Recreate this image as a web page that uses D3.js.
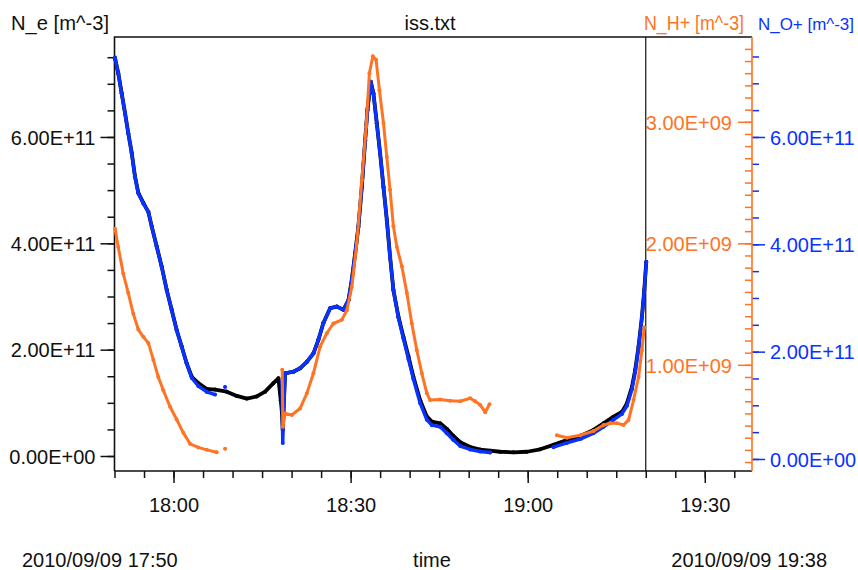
<!DOCTYPE html>
<html>
<head>
<meta charset="utf-8">
<script src="https://cdn.jsdelivr.net/npm/d3@7"></script>
<style>
  body { margin: 0; background: #fff; }
  svg { display: block; }
  text { font-family: 'Liberation Sans', Arial, sans-serif; font-size: 20px; }
</style>
</head>
<body>
<svg id="chart" width="858" height="570"></svg>
<script>
(function () {
  // ==================
  // Data, time of day 2010/09/09
  // ==================
  const electronData = [
    ['17:50:05', 7.48e11], ['17:50:38', 7.20e11], ['17:51:13', 6.82e11], ['17:51:47', 6.45e11],
    ['17:52:20', 6.07e11], ['17:52:55', 5.70e11], ['17:53:28', 5.26e11], ['17:54:02', 4.95e11],
    ['17:54:53', 4.76e11], ['17:55:44', 4.59e11], ['17:56:19', 4.31e11], ['17:57:09', 3.94e11],
    ['17:58:00', 3.56e11], ['17:58:51', 3.12e11], ['17:59:41', 2.75e11], ['18:00:32', 2.37e11],
    ['18:01:23', 2.06e11], ['18:02:14', 1.74e11], ['18:03:05', 1.49e11], ['18:04:12', 1.37e11],
    ['18:05:38', 1.26e11], ['18:07:02', 1.25e11], ['18:09:01', 1.21e11], ['18:10:43', 1.13e11],
    ['18:12:25', 1.08e11], ['18:14:06', 1.12e11], ['18:15:31', 1.21e11], ['18:16:55', 1.37e11],
    ['18:17:46', 1.46e11], ['18:18:10', 1.05e11], ['18:18:20', 0.87e11], ['18:18:30', 0.49e11],
    ['18:18:54', 1.555e11], ['18:20:18', 1.585e11], ['18:21:26', 1.65e11], ['18:22:35', 1.77e11],
    ['18:23:42', 1.93e11], ['18:24:32', 2.18e11], ['18:25:23', 2.50e11], ['18:26:32', 2.78e11],
    ['18:27:40', 2.81e11], ['18:28:47', 2.75e11], ['18:29:38', 2.93e11], ['18:30:12', 3.31e11],
    ['18:30:46', 3.81e11], ['18:31:19', 4.31e11], ['18:31:54', 5.06e11], ['18:32:28', 5.94e11],
    ['18:32:51', 6.51e11], ['18:33:25', 7.04e11], ['18:33:52', 6.82e11], ['18:34:26', 6.26e11],
    ['18:35:00', 5.69e11], ['18:35:34', 5.06e11], ['18:36:08', 4.44e11], ['18:36:41', 3.75e11],
    ['18:37:15', 3.12e11], ['18:38:06', 2.62e11], ['18:38:57', 2.24e11], ['18:39:48', 1.87e11],
    ['18:40:38', 1.49e11], ['18:41:47', 1.05e11], ['18:42:55', 0.74e11], ['18:43:46', 0.645e11],
    ['18:45:10', 0.615e11], ['18:46:18', 0.51e11], ['18:47:25', 0.376e11], ['18:48:34', 0.26e11],
    ['18:50:15', 0.17e11], ['18:51:57', 0.12e11], ['18:53:38', 0.10e11], ['18:55:20', 0.08e11],
    ['18:57:35', 0.07e11], ['18:59:52', 0.08e11], ['19:02:07', 0.126e11], ['19:04:22', 0.21e11],
    ['19:06:38', 0.30e11], ['19:08:54', 0.376e11], ['19:11:09', 0.49e11], ['19:12:51', 0.615e11],
    ['19:14:32', 0.74e11], ['19:15:58', 0.83e11], ['19:16:49', 0.99e11], ['19:17:40', 1.30e11],
    ['19:18:13', 1.62e11], ['19:18:47', 2.06e11], ['19:19:21', 2.62e11], ['19:19:45', 3.12e11],
    ['19:20:05', 3.65e11]
  ];

  // null = gap in the record
  const oxygenData = [
    ['17:50:05', 7.48e11], ['17:50:38', 7.19e11], ['17:51:13', 6.81e11], ['17:51:47', 6.44e11],
    ['17:52:20', 6.07e11], ['17:52:55', 5.70e11], ['17:53:28', 5.26e11], ['17:54:02', 4.95e11],
    ['17:54:53', 4.76e11], ['17:55:44', 4.61e11], ['17:56:19', 4.33e11], ['17:57:09', 3.96e11],
    ['17:58:00', 3.58e11], ['17:58:51', 3.15e11], ['17:59:41', 2.78e11], ['18:00:32', 2.40e11],
    ['18:01:23', 2.09e11], ['18:02:14', 1.78e11], ['18:03:05', 1.51e11], ['18:04:12', 1.36e11],
    ['18:05:38', 1.25e11], ['18:07:02', 1.20e11], ['18:07:40', null], ['18:08:44', 1.34e11],
    ['18:09:00', null], ['18:18:22', 1.45e11], ['18:18:30', 0.30e11], ['18:18:42', 1.00e11],
    ['18:18:54', 1.597e11], ['18:20:18', 1.627e11], ['18:21:26', 1.69e11], ['18:22:35', 1.81e11],
    ['18:23:42', 1.97e11], ['18:24:32', 2.22e11], ['18:25:23', 2.53e11], ['18:26:32', 2.81e11],
    ['18:27:40', 2.84e11], ['18:28:47', 2.78e11], ['18:29:38', 2.96e11], ['18:30:12', 3.34e11],
    ['18:30:46', 3.83e11], ['18:31:19', 4.33e11], ['18:31:54', 5.07e11], ['18:32:28', 5.94e11],
    ['18:32:51', 6.50e11], ['18:33:25', 7.03e11], ['18:33:52', 6.81e11], ['18:34:26', 6.25e11],
    ['18:35:00', 5.70e11], ['18:35:34', 5.07e11], ['18:36:08', 4.45e11], ['18:36:41', 3.77e11],
    ['18:37:15', 3.15e11], ['18:38:06', 2.63e11], ['18:38:57', 2.24e11], ['18:39:48', 1.86e11],
    ['18:40:38', 1.49e11], ['18:41:47', 1.04e11], ['18:42:55', 0.73e11], ['18:43:46', 0.63e11],
    ['18:45:10', 0.60e11], ['18:46:18', 0.48e11], ['18:47:25', 0.354e11], ['18:48:34', 0.24e11],
    ['18:50:15', 0.177e11], ['18:51:57', 0.14e11], ['18:53:38', 0.12e11], ['18:58:00', null],
    ['19:04:22', 0.22e11], ['19:06:38', 0.30e11], ['19:08:54', 0.37e11], ['19:11:09', 0.48e11],
    ['19:12:51', 0.60e11], ['19:14:32', 0.73e11], ['19:15:58', 0.84e11], ['19:16:49', 0.99e11],
    ['19:17:40', 1.30e11], ['19:18:13', 1.62e11], ['19:18:47', 2.07e11], ['19:19:21', 2.63e11],
    ['19:19:45', 3.13e11], ['19:20:05', 3.67e11]
  ];

  const hydrogenData = [
    ['17:50:05', 2.12e9], ['17:50:38', 1.97e9], ['17:51:29', 1.75e9], ['17:52:20', 1.59e9],
    ['17:53:11', 1.42e9], ['17:54:02', 1.29e9], ['17:54:53', 1.23e9], ['17:55:44', 1.18e9],
    ['17:56:35', 1.04e9], ['17:57:25', 0.90e9], ['17:58:16', 0.79e9], ['17:59:25', 0.655e9],
    ['18:00:32', 0.55e9], ['18:01:40', 0.44e9], ['18:02:48', 0.35e9], ['18:04:12', 0.32e9],
    ['18:05:38', 0.30e9], ['18:07:19', 0.28e9], ['18:08:00', null], ['18:08:44', 0.31e9],
    ['18:09:00', null], ['18:18:25', 0.96e9], ['18:18:32', 0.49e9], ['18:18:54', 0.60e9],
    ['18:20:02', 0.587e9], ['18:21:26', 0.64e9], ['18:22:35', 0.765e9], ['18:23:42', 0.93e9],
    ['18:24:50', 1.15e9], ['18:25:58', 1.26e9], ['18:27:05', 1.34e9], ['18:28:31', 1.37e9],
    ['18:29:22', 1.45e9], ['18:30:12', 1.64e9], ['18:31:03', 2.00e9], ['18:31:54', 2.52e9],
    ['18:32:38', 2.96e9], ['18:33:11', 3.40e9], ['18:33:46', 3.54e9], ['18:34:19', 3.51e9],
    ['18:34:53', 3.26e9], ['18:35:34', 2.99e9], ['18:36:08', 2.71e9], ['18:36:41', 2.44e9],
    ['18:37:15', 2.14e9], ['18:37:50', 1.97e9], ['18:38:41', 1.81e9], ['18:39:32', 1.59e9],
    ['18:40:22', 1.34e9], ['18:41:13', 1.12e9], ['18:42:04', 0.93e9], ['18:42:55', 0.765e9],
    ['18:43:28', 0.71e9], ['18:45:10', 0.715e9], ['18:46:52', 0.705e9], ['18:48:34', 0.70e9],
    ['18:50:15', 0.725e9], ['18:51:06', 0.70e9], ['18:51:57', 0.67e9], ['18:52:48', 0.61e9],
    ['18:53:32', 0.675e9], ['18:58:00', null], ['19:04:57', 0.42e9], ['19:06:38', 0.40e9],
    ['19:08:54', 0.42e9], ['19:11:09', 0.455e9], ['19:12:51', 0.505e9], ['19:13:59', 0.52e9],
    ['19:15:07', 0.52e9], ['19:16:14', 0.505e9], ['19:17:05', 0.545e9], ['19:17:56', 0.71e9],
    ['19:18:47', 0.90e9], ['19:19:21', 1.12e9], ['19:19:45', 1.31e9]
  ];

  const timeLabels = ['18:00', '18:30', '19:00', '19:30'];
  const neTickValues = [0, 2e11, 4e11, 6e11];
  const hTickValues = [1e9, 2e9, 3e9];
  const oTickValues = [0, 2e11, 4e11, 6e11];

  const TIME_START = '17:50:00';
  const TIME_END = '19:38:00';
  const DATA_END = '19:20:00';

  const ORANGE = '#ff7424';
  const BLUE = '#0a32ff';
  const BLACK = '#000';

  // ==================
  // Layout
  // ==================
  const PLOT_LEFT = 114.5;
  const PLOT_RIGHT = 752;
  const PLOT_TOP = 37;
  const PLOT_BOTTOM = 471;

  const svg = d3.select('#chart');
  const parseTime = d3.timeParse('%Y-%m-%d %H:%M:%S');
  const toDate = (s) => parseTime('2010-09-09 ' + (s.length === 5 ? s + ':00' : s));

  const xScale = d3.scaleTime()
    .domain([toDate(TIME_START), toDate(TIME_END)])
    .range([PLOT_LEFT, PLOT_RIGHT]);

  const yNe = d3.scaleLinear().domain([-0.282e11, 7.88e11]).range([PLOT_BOTTOM, PLOT_TOP]);
  const yO = d3.scaleLinear().domain([-0.224e11, 7.863e11]).range([PLOT_BOTTOM, PLOT_TOP]);
  const yH = d3.scaleLinear().domain([0.126e9, 3.698e9]).range([PLOT_BOTTOM, PLOT_TOP]);

  const sci = (v) => {
    const parts = v.toExponential(2).split('e');
    const exp = Math.abs(Number(parts[1]));
    return parts[0] + 'E' + (parts[1][0] === '-' ? '-' : '+') + String(exp).padStart(2, '0');
  };

  const styleAxis = (g, color) => {
    g.attr('color', color);
    g.selectAll('.tick line').attr('stroke-width', 1.5);
    g.selectAll('.tick text').attr('font-size', null).attr('font-family', null);
    g.select('.domain').remove();
  };

  // ==================
  // Axes
  // ==================
  // bottom
  const minorTimes = d3.timeMinute.every(5).range(toDate(TIME_START), toDate(TIME_END));
  svg.append('g')
    .attr('transform', `translate(0, ${PLOT_BOTTOM})`)
    .call(d3.axisBottom(xScale).tickValues(minorTimes).tickSize(7).tickFormat(''))
    .call(g => styleAxis(g, '#111'));
  svg.append('g')
    .attr('transform', `translate(0, ${PLOT_BOTTOM})`)
    .call(d3.axisBottom(xScale).tickValues(timeLabels.map(toDate)).tickSize(12).tickPadding(15)
      .tickFormat(d3.timeFormat('%H:%M')))
    .call(g => styleAxis(g, '#111'));

  // left N_e
  svg.append('g')
    .attr('transform', `translate(${PLOT_LEFT}, 0)`)
    .call(d3.axisLeft(yNe).tickValues(d3.range(0, 7.51e11, 0.5e11)).tickSize(7).tickFormat(''))
    .call(g => styleAxis(g, '#111'));
  svg.append('g')
    .attr('transform', `translate(${PLOT_LEFT}, 0)`)
    .call(d3.axisLeft(yNe).tickValues(neTickValues).tickSize(14).tickPadding(5).tickFormat(sci))
    .call(g => styleAxis(g, '#111'))
    .call(g => g.selectAll('.tick text').attr('dy', '0.36em'));

  // right N_H+
  svg.append('g')
    .attr('transform', `translate(${PLOT_RIGHT}, 0)`)
    .call(d3.axisLeft(yH).tickValues(d3.range(2e8, 3.61e9, 1e8)).tickSize(7).tickFormat(''))
    .call(g => styleAxis(g, ORANGE));
  svg.append('g')
    .attr('transform', `translate(${PLOT_RIGHT}, 0)`)
    .call(d3.axisLeft(yH).tickValues(hTickValues).tickSize(14).tickPadding(6).tickFormat(sci))
    .call(g => styleAxis(g, ORANGE))
    .call(g => g.selectAll('.tick text').attr('dy', '0.36em'));

  // right N_O+
  svg.append('g')
    .attr('transform', `translate(${PLOT_RIGHT}, 0)`)
    .call(d3.axisRight(yO).tickValues(d3.range(0, 7.51e11, 0.5e11)).tickSize(7).tickFormat(''))
    .call(g => styleAxis(g, BLUE));
  svg.append('g')
    .attr('transform', `translate(${PLOT_RIGHT}, 0)`)
    .call(d3.axisRight(yO).tickValues(oTickValues).tickSize(13).tickPadding(5).tickFormat(sci))
    .call(g => styleAxis(g, BLUE))
    .call(g => g.selectAll('.tick text').attr('dy', '0.36em'));

  // frame
  const frame = svg.append('g').attr('fill', 'none').attr('stroke-width', 1.6);
  frame.append('path').attr('stroke', '#111')
    .attr('d', `M${PLOT_LEFT},${PLOT_BOTTOM}V${PLOT_TOP}H${PLOT_RIGHT}M${PLOT_LEFT},${PLOT_BOTTOM}H${PLOT_RIGHT}`);
  frame.append('path').attr('stroke', ORANGE)
    .attr('d', `M${PLOT_RIGHT},${PLOT_TOP}V${PLOT_BOTTOM}`);
  frame.append('path').attr('stroke', '#111').attr('stroke-width', 1.2)
    .attr('d', `M${xScale(toDate(DATA_END))},${PLOT_TOP}V${PLOT_BOTTOM}`);

  // ==================
  // Series
  // ==================
  const drawSeries = (data, yScale, color, width) => {
    const pts = data.map(d => ({ t: toDate(d[0]), v: d[1] }));
    const line = d3.line()
      .defined(d => d.v !== null)
      .x(d => xScale(d.t))
      .y(d => yScale(d.v));
    svg.append('path')
      .attr('d', line(pts))
      .attr('fill', 'none')
      .attr('stroke', color)
      .attr('stroke-width', width)
      .attr('stroke-linejoin', 'round')
      .attr('stroke-linecap', 'round');
    svg.append('g').selectAll('circle')
      .data(pts.filter(d => d.v !== null))
      .join('circle')
      .attr('cx', d => xScale(d.t))
      .attr('cy', d => yScale(d.v))
      .attr('r', 2)
      .attr('fill', color);
  };

  drawSeries(electronData, yNe, BLACK, 3.8);
  drawSeries(oxygenData, yO, BLUE, 3.4);
  drawSeries(hydrogenData, yH, ORANGE, 3);

  // ==================
  // Titles
  // ==================
  const addText = (x, y, str, anchor, color, width, size) => {
    const t = svg.append('text')
      .attr('x', x).attr('y', y)
      .attr('text-anchor', anchor)
      .attr('fill', color)
      .text(str);
    if (size) t.style('font-size', size + 'px');
    if (width) t.attr('textLength', width).attr('lengthAdjust', 'spacingAndGlyphs');
    return t;
  };

  addText(11, 30, 'N_e [m^-3]', 'start', '#111', 98);
  addText(430, 30, 'iss.txt', 'middle', '#111');
  addText(744, 30, 'N_H+ [m^-3]', 'end', ORANGE, 100);
  addText(758, 30, 'N_O+ [m^-3]', 'start', BLUE, 96, 17);
  addText(22, 567, '2010/09/09 17:50', 'start', '#111');
  addText(432, 567, 'time', 'middle', '#111');
  addText(827, 567, '2010/09/09 19:38', 'end', '#111');
})();
</script>
</body>
</html>
